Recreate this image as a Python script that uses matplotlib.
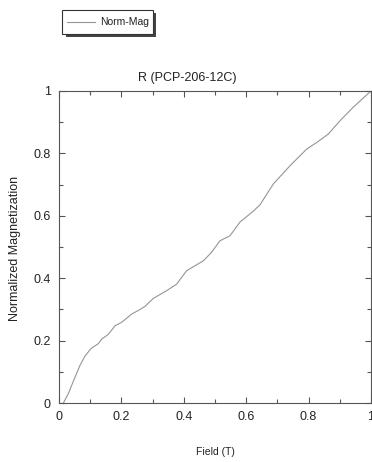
import matplotlib
matplotlib.use("Agg")
import matplotlib.pyplot as plt
from matplotlib.ticker import MultipleLocator, FuncFormatter
from matplotlib.patches import Rectangle
from matplotlib.lines import Line2D

field = [0.014, 0.03, 0.046, 0.067, 0.083, 0.103, 0.126, 0.137, 0.158, 0.18, 0.2,
         0.233, 0.26, 0.276, 0.302, 0.345, 0.377, 0.409, 0.463, 0.489, 0.516,
         0.548, 0.58, 0.623, 0.644, 0.687, 0.74, 0.794, 0.826, 0.863, 0.901,
         0.943, 1.0]
norm_mag = [0.0, 0.03, 0.07, 0.12, 0.15, 0.175, 0.19, 0.205, 0.22, 0.248, 0.258,
            0.285, 0.30, 0.31, 0.335, 0.36, 0.381, 0.424, 0.456, 0.483, 0.52,
            0.536, 0.58, 0.615, 0.635, 0.702, 0.76, 0.814, 0.835, 0.862, 0.905,
            0.948, 1.0]
series_label = 'Norm-Mag'

plt.rcParams['font.family'] = ['Liberation Sans', 'DejaVu Sans']

W, H = 372, 462
fig = plt.figure(figsize=(W / 100, H / 100), dpi=100)
ax = fig.add_axes([59 / W, 1 - 403 / H, 312 / W, 312 / H])
line, = ax.plot(field, norm_mag, color='#959595', lw=0.8, label=series_label)
ax.set_xlim(0, 1)
ax.set_ylim(0, 1)
ax.xaxis.set_major_locator(MultipleLocator(0.2))
ax.yaxis.set_major_locator(MultipleLocator(0.2))
ax.xaxis.set_minor_locator(MultipleLocator(0.1))
ax.yaxis.set_minor_locator(MultipleLocator(0.1))
fmt = FuncFormatter(lambda v, p: f"{v:g}")
ax.xaxis.set_major_formatter(fmt)
ax.yaxis.set_major_formatter(fmt)
ax.tick_params(which='both', direction='in', top=True, right=True, color='#555555',
               width=0.8, labelsize=9, labelcolor='#222222')
ax.tick_params(which='major', length=4, pad=6)
ax.tick_params(which='minor', length=3)
for s in ax.spines.values():
    s.set_color('#555555')
    s.set_linewidth(0.8)

fig.text(187 / W, 1 - 78 / H, 'R (PCP-206-12C)', fontsize=9, color='#222222',
         ha='center', va='center')
ax.set_xlabel('Field (T)', fontsize=7.5, color='#222222')
ax.xaxis.set_label_coords(0.5, (403 - 452) / 312)
ax.xaxis.label.set_va('center')
ax.set_ylabel('Normalized Magnetization', fontsize=9, color='#222222')
ax.yaxis.set_label_coords((15 - 59) / 312, 0.494)
ax.yaxis.label.set_va('center')

# Legend drawn in figure pixel coordinates (box with drop shadow)
def fx(px):
    return px / W

def fy(py):
    return 1 - py / H

bx0, bx1, by0, by1 = 62.5, 153, 10, 34
fig.add_artist(Rectangle((fx(bx0 + 3), fy(by1 + 3)), (bx1 - bx0) / W, (by1 - by0) / H,
                         transform=fig.transFigure, facecolor='#444444', edgecolor='none'))
fig.add_artist(Rectangle((fx(bx0), fy(by1)), (bx1 - bx0) / W, (by1 - by0) / H,
                         transform=fig.transFigure, facecolor='white', edgecolor='#333333', lw=0.8))
fig.add_artist(Line2D([fx(67), fx(95)], [fy(22), fy(22)], transform=fig.transFigure,
                      color=line.get_color(), lw=line.get_linewidth()))
fig.text(fx(100), fy(22), series_label, fontsize=7.5, color='#222222', ha='left', va='center')

fig.savefig('out.png', dpi=100)
